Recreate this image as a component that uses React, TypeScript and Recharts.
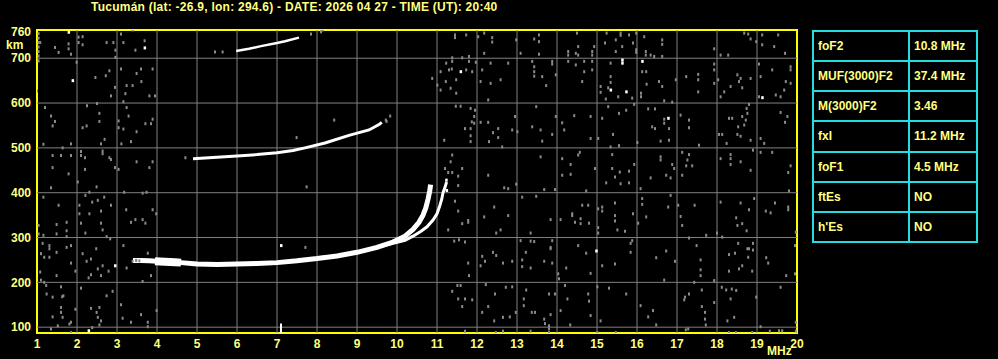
import React from 'react';
import {
    ComposedChart,
    XAxis,
    YAxis,
    Line,
    Scatter,
    ReferenceLine,
    ReferenceArea,
} from 'recharts';

const titleText = 'Tucumán (lat: -26.9, lon: 294.6) - DATE: 2026 04 27 - TIME (UT): 20:40';

const freqTicks = [1, 2, 3, 4, 5, 6, 7, 8, 9, 10, 11, 12, 13, 14, 15, 16, 17, 18, 19, 20];
const heightTicks = [100, 200, 300, 400, 500, 600, 700, 760];
const gridFreqs = [2, 3, 4, 5, 6, 7, 8, 9, 10, 11, 12, 13, 14, 15, 16, 17, 18, 19];
const gridHeights = [100, 200, 300, 400, 500, 600, 700];

const paramNames = ['foF2', 'MUF(3000)F2', 'M(3000)F2', 'fxI', 'foF1', 'ftEs', "h'Es"];
const paramValues = ['10.8 MHz', '37.4 MHz', '3.46', '11.2 MHz', '4.5 MHz', 'NO', 'NO'];

// first hop F trace, o-mode (freq MHz, virtual height km)
const oTrace = [
    [3.4, 249], [3.6, 249], [3.8, 248], [4.0, 247], [4.3, 246], [4.6, 244], [5.0, 241],
    [5.5, 240], [6.0, 241], [6.5, 242], [7.0, 244], [7.5, 248], [8.0, 253], [8.5, 259],
    [9.0, 267], [9.5, 278], [9.9, 290], [10.2, 303], [10.4, 318], [10.55, 334],
    [10.65, 350], [10.72, 366], [10.78, 387], [10.82, 405], [10.84, 418],
];
// thick echo blob at the bottom of the trace
const blobTrace = [[3.95, 247], [4.2, 246], [4.45, 245], [4.6, 244]];
// x-mode branch
const xTrace = [
    [9.6, 280], [9.9, 287], [10.2, 294], [10.4, 303], [10.6, 314], [10.75, 324],
    [10.9, 339], [11.0, 353], [11.07, 371], [11.12, 386], [11.15, 400], [11.2, 412], [11.24, 424],
];
// second hop
const f2Trace = [
    [4.9, 476], [5.5, 479], [6.0, 482], [6.5, 485], [7.0, 489], [7.4, 494], [7.7, 500],
    [8.2, 511], [8.8, 528], [9.3, 540], [9.55, 552], [9.62, 557],
];
// third hop
const f3Trace = [[5.98, 716], [6.3, 721], [6.6, 727], [7.0, 734], [7.2, 738], [7.55, 746]];

const markerFreq = 7.1;
const markerTop = 108;

const whiteDots = [
    [1.79, 758], [3.69, 723], [1.89, 650], [11.59, 670], [15.34, 629], [15.73, 625],
    [15.63, 696], [15.63, 689], [16.13, 693], [19.13, 612], [16.78, 566], [11.23, 428],
    [14.98, 270], [2.95, 237], [2.29, 92], [7.1, 282], [11.24, 405],
];

const grayDots = [
    // 1 - 4 MHz, upper part
    [1.04, 755], [1.04, 745], [1.04, 735], [1.04, 725], [1.04, 715], [1.04, 705], [1.04, 694],
    [1.08, 735], [1.45, 724], [1.54, 713], [1.79, 732], [1.79, 721], [1.85, 709], [2.04, 747],
    [2.04, 735], [2.14, 748], [2.14, 730], [1.99, 691], [2.74, 735], [2.91, 735], [2.96, 718],
    [2.96, 702], [3.1, 754], [3.16, 735], [3.39, 763], [3.46, 718], [3.69, 739], [2.46, 657],
    [2.72, 661], [2.81, 672], [3.1, 676], [2.95, 635], [2.85, 616], [3.21, 621], [3.24, 639],
    [3.39, 639], [3.49, 666], [3.6, 676], [3.61, 648], [3.89, 676], [3.81, 616], [3.95, 616],
    [3.16, 603], [1.0, 627], [1.2, 590], [1.35, 571], [1.45, 559], [1.39, 549], [2.25, 594],
    [2.5, 599], [2.56, 577], [2.56, 559], [2.14, 545], [2.24, 549], [2.69, 519], [2.6, 509],
    [3.04, 560], [3.04, 545], [3.24, 590], [3.29, 571], [3.16, 542], [3.11, 509], [3.71, 554],
    [3.89, 564], [3.85, 554], [3.49, 536], [3.35, 514], [1.16, 508], [1.85, 509], [1.64, 500],
    [1.39, 483], [1.6, 483], [1.85, 483], [2.1, 492], [2.1, 483], [2.2, 478], [2.64, 493],
    [2.64, 487], [2.81, 478], [2.85, 474], [2.95, 456], [3.04, 452], [1.39, 456], [1.79, 442],
    [2.2, 452], [3.49, 469], [3.89, 469], [3.81, 456],
    // near the echoes
    [5.45, 714], [5.64, 714], [7.85, 754], [8.1, 759], [8.14, 763], [7.49, 523], [8.43, 562],
    [9.72, 562], [9.83, 571], [9.74, 559], [4.71, 478], [7.74, 413], [7.71, 278],
    [3.39, 247], [3.48, 249], [3.56, 248],
    // 11 - 20 MHz, top
    [11.45, 752], [11.45, 746], [11.73, 752], [12.03, 748], [12.18, 756], [12.38, 746],
    [12.38, 736], [12.98, 741], [13.43, 743], [13.55, 752], [13.55, 737], [13.09, 711],
    [13.55, 709], [14.5, 756], [14.28, 715], [14.28, 707], [14.47, 711], [14.53, 726],
    [14.53, 707], [14.88, 715], [14.88, 707], [14.93, 726], [15.24, 756], [15.2, 734],
    [15.47, 741], [15.47, 715], [15.59, 756], [15.59, 751], [15.63, 726], [15.8, 752],
    [15.9, 734], [15.98, 756], [15.98, 719], [15.98, 713], [16.18, 748], [16.22, 715],
    [16.22, 707], [16.34, 707], [16.63, 741], [16.63, 731], [16.43, 704], [16.63, 704],
    [17.93, 721], [18.09, 707], [18.28, 707], [18.68, 756], [18.78, 754], [18.84, 743],
    [18.98, 737], [19.13, 752], [19.13, 730], [19.43, 726], [19.53, 752], [19.7, 711],
    [12.18, 711], [11.38, 701], [11.63, 701], [11.8, 704],
    // 700 - 600 km
    [10.88, 655], [11.09, 670], [11.23, 689], [11.3, 674], [11.37, 676], [11.38, 693],
    [11.48, 652], [11.8, 693], [11.73, 674], [11.88, 670], [11.97, 691], [11.01, 640],
    [11.09, 629], [11.22, 648], [11.34, 633], [11.48, 622], [12.13, 674], [12.09, 648],
    [12.34, 689], [12.34, 644], [12.59, 652], [12.28, 607], [12.78, 689], [13.38, 693],
    [13.43, 681], [13.43, 670], [13.43, 660], [13.63, 659], [13.88, 693], [13.88, 687],
    [13.97, 663], [13.73, 639], [14.28, 693], [14.47, 685], [14.68, 693], [14.68, 670],
    [14.88, 693], [14.88, 674], [14.63, 648], [15.09, 637], [15.34, 689], [15.34, 659],
    [15.34, 646], [15.28, 634], [15.09, 624], [15.22, 609], [15.53, 614], [15.88, 611],
    [16.13, 670], [16.23, 670], [16.24, 642], [16.55, 648], [16.63, 637], [16.1, 622],
    [16.1, 614], [16.68, 605], [16.88, 602], [16.97, 652], [17.23, 659], [17.53, 664],
    [17.53, 652], [17.53, 625], [17.93, 687], [17.93, 674], [17.93, 644], [18.03, 652],
    [18.09, 614], [18.18, 625], [18.34, 637], [18.51, 663], [18.59, 655], [18.55, 648],
    [18.63, 634], [18.84, 655], [19.09, 659], [19.05, 687], [19.05, 614], [19.38, 674],
    [19.47, 618], [19.59, 614], [19.72, 648], [19.68, 629], [19.84, 681], [19.84, 674],
    [19.84, 644],
    // 600 - 500 km
    [11.47, 593], [11.59, 593], [11.84, 588], [11.95, 584], [11.93, 570], [11.87, 558],
    [11.93, 555], [11.7, 543], [11.84, 543], [11.84, 527], [11.84, 514], [11.18, 517],
    [12.09, 557], [12.28, 557], [12.4, 534], [12.53, 543], [12.53, 523], [12.3, 514],
    [12.63, 502], [12.88, 540], [12.95, 570], [13.01, 536], [13.48, 592], [13.38, 547],
    [13.59, 540], [13.63, 515], [13.88, 530], [13.97, 570], [14.13, 556], [14.18, 540],
    [14.43, 572], [14.84, 570], [14.84, 521], [15.03, 521], [15.13, 566], [15.28, 592],
    [15.4, 530], [15.55, 577], [15.73, 584], [15.93, 597], [16.01, 512], [15.34, 502],
    [15.55, 505], [16.28, 587], [16.45, 587], [16.38, 547], [16.45, 543], [16.68, 564],
    [16.8, 543], [16.68, 555], [16.59, 515], [16.8, 517], [17.09, 573], [17.3, 562],
    [17.3, 545], [17.55, 506], [18.05, 530], [18.13, 530], [18.3, 566], [18.38, 566],
    [18.63, 570], [18.53, 547], [18.51, 530], [18.59, 526], [18.68, 551], [18.72, 562],
    [18.74, 588], [18.76, 577], [18.8, 597], [18.84, 517], [19.09, 521], [19.18, 510],
    [19.59, 579], [19.76, 570], [19.7, 557], [18.24, 510],
    // 500 - 430 km
    [11.38, 484], [11.34, 469], [11.2, 454], [11.28, 445], [11.38, 445], [11.53, 437],
    [11.63, 454], [12.28, 439], [13.59, 480], [14.13, 476], [14.13, 439], [14.34, 463],
    [14.34, 441], [14.53, 484], [14.57, 490], [14.95, 454], [15.38, 485], [15.38, 454],
    [15.57, 446], [15.45, 435], [15.8, 448], [15.93, 463], [16.34, 433], [16.59, 480],
    [16.59, 473], [16.73, 439], [16.88, 463], [16.93, 454], [16.84, 433], [17.13, 490],
    [17.13, 439], [17.3, 485], [17.26, 473], [17.38, 460], [17.23, 460], [18.09, 476],
    [18.34, 485], [18.34, 476], [18.34, 463], [18.59, 469], [18.9, 495], [19.09, 490],
    [19.38, 490], [18.84, 450], [19.84, 460], [19.78, 445],
    // 11 - 20 MHz, lower part
    [11.53, 416], [12.68, 411], [12.78, 409], [12.98, 419], [13.68, 407], [13.95, 407],
    [14.73, 404], [15.23, 422], [15.59, 420], [15.8, 422], [16.09, 409], [13.48, 392],
    [13.13, 390], [11.45, 381], [11.53, 359], [11.78, 338], [11.78, 334], [11.63, 331],
    [11.28, 317], [12.43, 368], [12.18, 346], [12.78, 349], [12.48, 310], [12.59, 317],
    [13.34, 310], [13.84, 340], [14.09, 340], [14.38, 353], [14.38, 349], [14.45, 334],
    [14.59, 342], [14.59, 331], [14.8, 332], [14.63, 372], [14.78, 372], [15.03, 364],
    [15.13, 368], [15.13, 359], [15.03, 322], [15.03, 310], [15.45, 377], [15.45, 349],
    [15.45, 337], [15.51, 317], [15.7, 314], [15.9, 353], [16.03, 332], [16.13, 387],
    [16.13, 374], [16.23, 346], [16.78, 368], [16.84, 394], [17.03, 372], [17.09, 347],
    [17.13, 327], [17.44, 372], [17.73, 305], [18.0, 310], [18.09, 379], [18.13, 301],
    [18.48, 344], [18.51, 327], [18.59, 377], [18.63, 331], [18.74, 315], [18.8, 362],
    [18.93, 387], [19.22, 359], [19.34, 355], [19.45, 377], [19.78, 368], [19.78, 362],
    [19.8, 404], [19.97, 312], [11.43, 292], [11.7, 290], [11.55, 295], [12.13, 258],
    [12.4, 267], [12.48, 260], [12.2, 247], [11.78, 243], [12.09, 237], [11.8, 215],
    [12.65, 243], [12.88, 247], [13.13, 250], [13.13, 235], [13.34, 232], [13.22, 267],
    [13.34, 292], [13.09, 293], [13.43, 291], [13.68, 247], [13.84, 278], [13.84, 275],
    [13.88, 293], [13.88, 243], [14.03, 219], [14.05, 208], [14.23, 232], [14.53, 282],
    [14.73, 265], [14.84, 220], [15.13, 237], [15.45, 241], [15.84, 267], [15.84, 287],
    [15.88, 293], [16.48, 255], [16.73, 270], [16.95, 247], [16.68, 205], [17.3, 299],
    [17.49, 282], [17.59, 250], [17.59, 228], [17.59, 215], [17.93, 204], [18.3, 262],
    [18.45, 265], [18.53, 287], [18.3, 225], [18.55, 230], [18.63, 237], [18.76, 275],
    [18.8, 275], [18.9, 287], [18.9, 272], [18.78, 256], [18.88, 225], [19.23, 255],
    [19.28, 243], [19.73, 215], [19.95, 282], [19.95, 219], [11.51, 193], [11.59, 193],
    [11.38, 180], [11.53, 163], [11.7, 163], [11.63, 146], [11.88, 161], [12.22, 195],
    [12.45, 174], [12.72, 189], [12.88, 190], [12.28, 146], [12.13, 133], [12.43, 114],
    [12.65, 122], [12.82, 123], [12.97, 133], [13.23, 183], [13.17, 163], [13.17, 148],
    [13.37, 133], [13.45, 133], [13.8, 174], [13.95, 174], [13.84, 128], [13.68, 118],
    [13.7, 108], [13.8, 103], [13.8, 96], [13.8, 88], [14.09, 137], [14.2, 193],
    [14.26, 163], [14.33, 105], [14.78, 174], [14.8, 158], [14.84, 126], [15.09, 114],
    [15.01, 190], [15.3, 187], [15.73, 174], [16.09, 148], [16.28, 123], [16.4, 137],
    [16.48, 105], [17.2, 167], [17.18, 161], [17.3, 174], [17.43, 200], [17.62, 183],
    [17.62, 146], [17.7, 133], [17.7, 118], [17.72, 105], [17.93, 155], [18.12, 189],
    [18.23, 183], [18.37, 185], [18.48, 182], [18.34, 163], [18.43, 122], [18.26, 114],
    [18.98, 167], [19.09, 101], [19.59, 189], [19.97, 111], [11.7, 91], [12.47, 88],
    [12.65, 91], [13.34, 91], [15.01, 88], [15.47, 88], [17.22, 94], [17.28, 96], [18.3, 88],
    [18.47, 88], [18.88, 88], [19.32, 91], [19.55, 92], [19.63, 92], [19.97, 91],
    // 1 - 4 MHz, lower part
    [1.35, 411], [2.02, 424], [2.49, 413], [1.16, 390], [1.54, 372], [2.06, 372], [2.21, 394],
    [2.31, 401], [2.38, 379], [2.52, 383], [2.68, 390], [2.85, 372], [3.18, 401], [3.23, 362],
    [3.64, 399], [3.74, 401], [3.89, 362], [3.98, 353], [2.06, 353], [2.1, 332], [2.31, 353],
    [2.6, 359], [2.6, 332], [2.64, 317], [2.74, 302], [2.83, 297], [3.35, 334], [3.46, 340],
    [3.64, 340], [3.71, 332], [1.04, 327], [1.04, 308], [1.49, 329], [1.49, 308], [1.74, 334],
    [1.74, 315], [1.74, 302], [2.21, 310], [1.16, 305], [1.14, 287], [1.31, 282], [1.31, 275],
    [1.49, 267], [1.74, 278], [1.85, 282], [1.1, 264], [1.18, 256], [1.31, 256], [2.14, 264],
    [2.24, 247], [2.35, 252], [2.48, 275], [2.52, 230], [2.64, 237], [2.35, 217], [2.29, 210],
    [2.6, 215], [2.79, 225], [3.16, 282], [3.24, 232], [3.48, 249], [3.77, 265], [3.64, 202],
    [3.85, 215], [1.08, 223], [1.1, 205], [1.18, 200], [1.49, 215], [1.85, 243], [1.96, 225],
    [1.23, 193], [1.24, 174], [1.39, 167], [1.6, 190], [1.63, 168], [1.66, 170], [1.6, 144],
    [1.6, 133], [1.64, 122], [1.39, 123], [1.52, 103], [1.81, 107], [1.85, 111], [1.96, 140],
    [2.1, 187], [2.35, 142], [2.49, 133], [2.56, 144], [2.52, 122], [2.6, 114], [2.56, 105],
    [2.38, 99], [2.89, 180], [2.74, 170], [3.1, 150], [3.14, 120], [3.35, 111], [3.6, 128],
    [3.77, 111], [3.77, 101], [3.99, 137], [1.35, 96], [1.85, 88],
];

const toPts = (arr: number[][]) => arr.map(([f, km]) => ({ f, km }));

const YELLOW = '#ffff80';
const FRAME = '#ffff00';
const GRID = '#808080';
const CYAN = '#22dede';
const FONT = '"Liberation Sans", Arial, sans-serif';

const GrayDot = (p: any) => (
    <rect x={p.cx - 1} y={p.cy - 1.5} width={2} height={3} fill="#8a8a8a" />
);
const WhiteDot = (p: any) => (
    <rect x={p.cx - 1} y={p.cy - 1.5} width={2.5} height={3} fill="#ffffff" />
);

const ParamTable = () => (
    <table
        style={{
            position: 'absolute',
            left: 812,
            top: 30,
            width: 166,
            height: 213,
            borderCollapse: 'collapse',
            fontFamily: FONT,
            fontWeight: 'bold',
            fontSize: 12,
            color: YELLOW,
        }}
    >
        <tbody>
            {paramNames.map((name, i) => (
                <tr key={name}>
                    <td style={{ border: `2px solid ${CYAN}`, width: 90, padding: '0 0 0 4px' }}>{name}</td>
                    <td style={{ border: `2px solid ${CYAN}`, padding: '0 0 0 4px' }}>{paramValues[i]}</td>
                </tr>
            ))}
        </tbody>
    </table>
);

export default function App() {
    const tickStyle = { fill: YELLOW, fontSize: 12, fontWeight: 'bold', fontFamily: FONT };
    return (
        <div
            style={{
                position: 'absolute',
                left: 0,
                top: 0,
                width: 998,
                height: 359,
                background: '#000',
                overflow: 'hidden',
            }}
        >
            <div
                style={{
                    position: 'absolute',
                    left: 91,
                    top: 0,
                    lineHeight: '14px',
                    fontFamily: FONT,
                    fontWeight: 'bold',
                    fontSize: 12,
                    letterSpacing: 0.25,
                    color: YELLOW,
                    whiteSpace: 'nowrap',
                }}
            >
                {titleText}
            </div>
            <div
                style={{
                    position: 'absolute',
                    left: 6,
                    top: 38,
                    lineHeight: '14px',
                    fontFamily: FONT,
                    fontWeight: 'bold',
                    fontSize: 12,
                    color: YELLOW,
                }}
            >
                km
            </div>
            <div
                style={{
                    position: 'absolute',
                    left: 767,
                    top: 344,
                    lineHeight: '14px',
                    fontFamily: FONT,
                    fontWeight: 'bold',
                    fontSize: 12,
                    color: YELLOW,
                }}
            >
                MHz
            </div>
            <ComposedChart
                width={998}
                height={359}
                margin={{ top: 30, right: 201, bottom: 0, left: 0 }}
                style={{ position: 'absolute', left: 0, top: 0 }}
            >
                <XAxis
                    type="number"
                    dataKey="f"
                    domain={[1, 20]}
                    ticks={freqTicks}
                    interval={0}
                    height={26}
                    axisLine={false}
                    tickLine={false}
                    tickSize={0}
                    tickMargin={6}
                    tick={tickStyle}
                    allowDataOverflow
                />
                <YAxis
                    type="number"
                    dataKey="km"
                    domain={[87, 763]}
                    ticks={heightTicks}
                    interval={0}
                    width={37}
                    axisLine={false}
                    tickLine={false}
                    tickSize={0}
                    tickMargin={6}
                    tick={tickStyle}
                    allowDataOverflow
                />
                {gridFreqs.map((f) => (
                    <ReferenceLine key={`gx${f}`} x={f} stroke={GRID} strokeWidth={1} />
                ))}
                {gridHeights.map((h) => (
                    <ReferenceLine key={`gy${h}`} y={h} stroke={GRID} strokeWidth={1} />
                ))}
                <Scatter data={toPts(grayDots)} shape={GrayDot} isAnimationActive={false} />
                <Scatter data={toPts(whiteDots)} shape={WhiteDot} isAnimationActive={false} />
                <Line data={toPts(f3Trace)} dataKey="km" stroke="#fff" strokeWidth={2.5} dot={false} isAnimationActive={false} />
                <Line data={toPts(f2Trace)} dataKey="km" stroke="#fff" strokeWidth={3} dot={false} isAnimationActive={false} />
                <Line data={toPts(xTrace)} dataKey="km" stroke="#fff" strokeWidth={3} dot={false} isAnimationActive={false} />
                <Line data={toPts(oTrace)} dataKey="km" stroke="#fff" strokeWidth={5} dot={false} isAnimationActive={false} />
                <Line data={toPts(blobTrace)} dataKey="km" stroke="#fff" strokeWidth={8} dot={false} isAnimationActive={false} />
                <ReferenceLine
                    segment={[{ x: markerFreq, y: 87 }, { x: markerFreq, y: markerTop }]}
                    stroke="#fff"
                    strokeWidth={2}
                    ifOverflow="visible"
                />
                <ReferenceArea x1={1} x2={20} y1={87} y2={763} fill="none" stroke={FRAME} strokeWidth={2} ifOverflow="visible" />
            </ComposedChart>
            <ParamTable />
        </div>
    );
}
